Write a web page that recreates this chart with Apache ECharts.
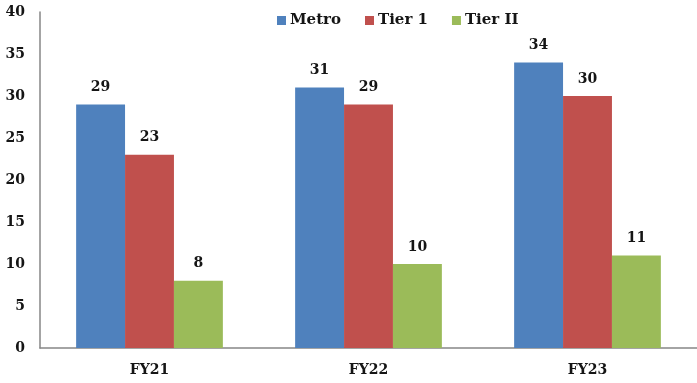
<!DOCTYPE html>
<html>
<head>
<meta charset="utf-8">
<script src="https://cdn.jsdelivr.net/npm/echarts@6/dist/echarts.min.js"></script>
<style>
  html, body { margin: 0; padding: 0; background: #fff; }
  #chart { width: 697px; height: 383px; }
</style>
</head>
<body>
<div id="chart"></div>
<script>
// Fiscal years on the category axis
const categories = ['FY21', 'FY22', 'FY23'];
// Values per city tier
const metro = [29, 31, 34];
const tier1 = [23, 29, 30];
const tier2 = [8, 10, 11];
const seriesNames = ['Metro', 'Tier 1', 'Tier II'];

const FONT = '"DejaVu Serif", "Liberation Serif", serif';
const TEXT = '#151515';
const colors = ['#4F81BD', '#C0504D', '#9BBB59'];

const labelStyle = {
  show: true,
  position: 'top',
  distance: 10,
  fontFamily: FONT,
  fontWeight: 'bold',
  fontSize: 14,
  color: TEXT
};

const chart = echarts.init(document.getElementById('chart'), null, { renderer: 'canvas' });
chart.setOption({
  animation: false,
  color: colors,
  grid: { left: 40, right: -4, top: 12, bottom: 35, containLabel: false },
  legend: {
    data: seriesNames,
    top: 8,
    left: 272,
    itemWidth: 9,
    itemHeight: 9,
    itemGap: 24,
    icon: 'rect',
    textStyle: { fontFamily: FONT, fontWeight: 'bold', fontSize: 15, color: TEXT, padding: [0, 0, 0, -1] }
  },
  xAxis: {
    type: 'category',
    data: categories,
    axisLine: { lineStyle: { color: '#868686', width: 1.5 } },
    axisTick: { show: false },
    axisLabel: { fontFamily: FONT, fontWeight: 'bold', fontSize: 14, color: TEXT, margin: 15 }
  },
  yAxis: {
    type: 'value',
    min: 0,
    max: 40,
    interval: 5,
    axisLine: { show: true, lineStyle: { color: '#868686', width: 1.5 } },
    axisTick: { show: false },
    splitLine: { show: false },
    axisLabel: { fontFamily: FONT, fontWeight: 'bold', fontSize: 14, color: TEXT, margin: 15 }
  },
  series: [
    { name: seriesNames[0], type: 'bar', data: metro, barGap: '0%', barCategoryGap: '33%', label: labelStyle },
    { name: seriesNames[1], type: 'bar', data: tier1, label: labelStyle },
    { name: seriesNames[2], type: 'bar', data: tier2, label: labelStyle }
  ]
});
</script>
</body>
</html>
